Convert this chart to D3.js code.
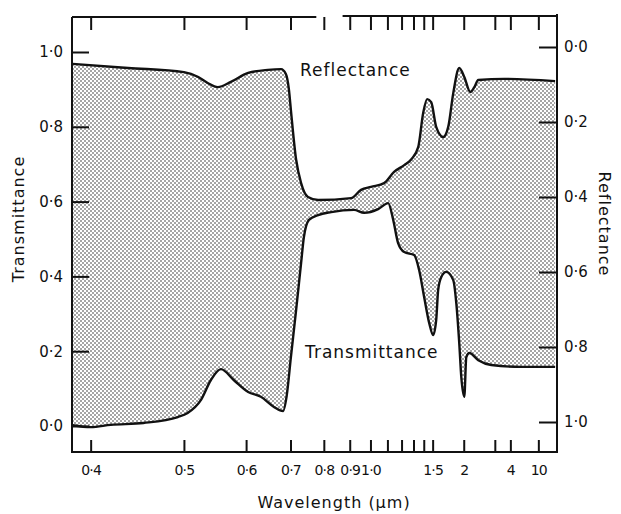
<!DOCTYPE html>
<html>
<head>
<meta charset="utf-8">
<script src="https://cdn.jsdelivr.net/npm/d3@7"></script>
<style>
  body { margin: 0; background: #fff; }
  text { font-family: "DejaVu Sans", sans-serif; fill: #111; }
  .axis path { display: none; }
  .axis line { stroke: #111; stroke-width: 2px; }
  .axis text { font-size: 15px; }
  .axis.x text { font-size: 14px; letter-spacing: -0.8px; }
</style>
</head>
<body>
<div id="chart"></div>
<script>
// wavelength (um) and reflectance
const reflWl  = [0.385, 0.435, 0.50, 0.52, 0.534, 0.55, 0.572, 0.604, 0.645, 0.676, 0.688, 0.696, 0.701, 0.715, 0.729, 0.749, 0.781,
                 0.906, 0.952, 1.003, 1.079, 1.145, 1.221, 1.279, 1.344, 1.394, 1.437, 1.483, 1.544, 1.639, 1.715, 1.798, 1.908,
                 2.012, 2.151, 2.257, 2.37, 3.54, 100];
const reflVal = [0.045, 0.056, 0.067, 0.08, 0.096, 0.107, 0.093, 0.069, 0.061, 0.059, 0.072, 0.115, 0.168, 0.30, 0.363, 0.40, 0.408,
                 0.403, 0.381, 0.373, 0.363, 0.333, 0.315, 0.30, 0.267, 0.176, 0.139, 0.147, 0.213, 0.24, 0.213, 0.123, 0.056,
                 0.08, 0.12, 0.107, 0.088, 0.085, 0.091];

// wavelength (um) and transmittance
const transWl  = [0.385, 0.40, 0.418, 0.451, 0.492, 0.505, 0.524, 0.539, 0.555, 0.577, 0.604, 0.63, 0.659, 0.681, 0.69, 0.701, 0.715,
                  0.729, 0.737, 0.752, 0.781, 0.826, 0.919, 0.967, 1.043, 1.105, 1.139, 1.174, 1.221, 1.306, 1.353, 1.404, 1.46,
                  1.506, 1.544, 1.57, 1.611, 1.684, 1.798, 1.852, 1.908, 1.949, 2.012, 2.057, 2.127, 2.37, 2.84, 5.24, 100];
const transVal = [0.002, -0.003, 0.003, 0.008, 0.024, 0.035, 0.07, 0.123, 0.152, 0.123, 0.091, 0.078, 0.051, 0.04, 0.08, 0.184, 0.31,
                  0.436, 0.505, 0.551, 0.564, 0.572, 0.578, 0.57, 0.58, 0.596, 0.551, 0.489, 0.465, 0.457, 0.417, 0.345, 0.275,
                  0.243, 0.283, 0.364, 0.398, 0.412, 0.39, 0.329, 0.222, 0.131, 0.078, 0.184, 0.195, 0.176, 0.163, 0.158, 0.158];

const tickWl     = [0.4, 0.5, 0.6, 0.7, 0.8, 0.9, 1.0, 1.1, 1.2, 1.3, 1.4, 1.5, 2, 3, 4, 10];
const tickWlText = ["0·4", "0·5", "0·6", "0·7", "0·8", "0·9", "1·0", "", "", "", "", "1·5", "2", "", "4", "10"];
const yTicks     = [0, 0.2, 0.4, 0.6, 0.8, 1.0];
const yTickText  = ["0·0", "0·2", "0·4", "0·6", "0·8", "1·0"];

const width = 621, height = 514;
const margin = { left: 72, right: 557, top: 17, bottom: 452 };

const svg = d3.select('#chart').append('svg')
    .attr('width', width)
    .attr('height', height);

// stipple fill
const pat = svg.append('defs').append('pattern')
    .attr('id', 'dots')
    .attr('width', 4).attr('height', 4)
    .attr('patternUnits', 'userSpaceOnUse');
pat.append('rect').attr('width', 4).attr('height', 4).attr('fill', '#fff');
pat.append('circle').attr('cx', 1).attr('cy', 1).attr('r', 0.8).attr('fill', '#333');
pat.append('circle').attr('cx', 3).attr('cy', 3).attr('r', 0.8).attr('fill', '#333');

// x axis is linear in 1/wavelength
const x = d3.scaleLinear().domain([2.6, 0]).range([margin.left, margin.right]);
const yT = d3.scaleLinear().domain([0, 1]).range([426, 52]);
const yR = d3.scaleLinear().domain([0, 1]).range([47, 422]);

const refl = reflWl.map((w, i) => [x(1 / w), yR(reflVal[i])]);
const trans = transWl.map((w, i) => [x(1 / w), yT(transVal[i])]);

const line = d3.line().curve(d3.curveMonotoneX);

const transRev = line(trans.slice().reverse());
svg.append('path')
    .attr('d', line(refl) + transRev.replace(/^M/, 'L') + 'Z')
    .attr('fill', 'url(#dots)')
    .attr('stroke', 'none');

svg.append('path').attr('d', line(refl))
    .attr('fill', 'none').attr('stroke', '#111').attr('stroke-width', 2.4);
svg.append('path').attr('d', line(trans))
    .attr('fill', 'none').attr('stroke', '#111').attr('stroke-width', 2.4);

// frame (top edge has a break, as in the original)
const frame = svg.append('g').attr('fill', 'none').attr('stroke', '#111').attr('stroke-width', 2);
frame.append('path').attr('d', `M${margin.left},${margin.top}V${margin.bottom}H${margin.right}V${margin.top - 3}`);
frame.append('path').attr('d', `M${margin.left},${margin.top}H${x(1 / 0.775)}`);
frame.append('path').attr('d', `M${x(1 / 0.87)},${margin.top - 1}H${margin.right}`);

const xTickU = tickWl.map(w => 1 / w);

svg.append('g').attr('class', 'axis x')
    .attr('transform', `translate(0,${margin.bottom})`)
    .call(d3.axisBottom(x).tickValues(xTickU).tickSize(-12).tickPadding(13)
        .tickFormat((d, i) => tickWlText[i]));

svg.append('g').attr('class', 'axis')
    .attr('transform', `translate(0,${margin.top})`)
    .call(d3.axisTop(x).tickValues(xTickU).tickSize(-13).tickFormat(''));

svg.append('g').attr('class', 'axis')
    .attr('transform', `translate(${margin.left},0)`)
    .call(d3.axisLeft(yT).tickValues(yTicks).tickSize(-17).tickPadding(9)
        .tickFormat((d, i) => yTickText[i]));

svg.append('g').attr('class', 'axis')
    .attr('transform', `translate(${margin.right},0)`)
    .call(d3.axisRight(yR).tickValues(yTicks).tickSize(-18).tickPadding(7)
        .tickFormat((d, i) => yTickText[i]));

// labels
svg.append('text').attr('x', 300).attr('y', 76)
    .style('font-size', '17px').style('letter-spacing', '1px')
    .text('Reflectance');
svg.append('text').attr('x', 305).attr('y', 358)
    .style('font-size', '17px').style('letter-spacing', '1px')
    .text('Transmittance');

svg.append('text')
    .attr('transform', 'translate(24,219) rotate(-90)')
    .attr('text-anchor', 'middle')
    .style('font-size', '16px').style('letter-spacing', '1px')
    .text('Transmittance');
svg.append('text')
    .attr('transform', 'translate(599,224) rotate(90)')
    .attr('text-anchor', 'middle')
    .style('font-size', '16px').style('letter-spacing', '1px')
    .text('Reflectance');
svg.append('text')
    .attr('x', 334).attr('y', 508)
    .attr('text-anchor', 'middle')
    .style('font-size', '16px').style('letter-spacing', '1px')
    .text('Wavelength (μm)');
</script>
</body>
</html>
